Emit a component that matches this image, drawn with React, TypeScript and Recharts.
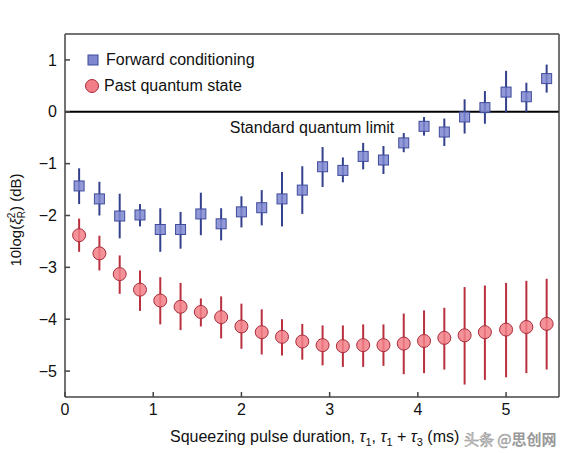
import React from 'react';
import { ComposedChart, Scatter, XAxis, YAxis, ErrorBar, ReferenceLine } from 'recharts';

// pulse duration (ms)
const durations = [0.16, 0.39, 0.62, 0.85, 1.08, 1.31, 1.54, 1.77, 2.0, 2.23, 2.46, 2.69,
    2.92, 3.15, 3.38, 3.61, 3.84, 4.07, 4.3, 4.53, 4.76, 5.0, 5.23, 5.46];

// forward conditioning, dB, with error bar ends
const forwardVal = [-1.43, -1.68, -2.01, -1.99, -2.27, -2.27, -1.97, -2.16, -1.93, -1.85, -1.68, -1.51,
    -1.06, -1.13, -0.86, -0.93, -0.6, -0.28, -0.39, -0.1, 0.08, 0.38, 0.29, 0.64];
const forwardLo = [-1.78, -2.0, -2.44, -2.21, -2.7, -2.64, -2.38, -2.48, -2.23, -2.19, -2.21, -1.97,
    -1.45, -1.36, -1.11, -1.2, -0.78, -0.46, -0.66, -0.42, -0.23, -0.02, 0.0, 0.37];
const forwardHi = [-1.09, -1.35, -1.58, -1.78, -1.86, -1.93, -1.56, -1.86, -1.63, -1.51, -1.16, -1.05,
    -0.68, -0.88, -0.6, -0.66, -0.41, -0.1, -0.13, 0.24, 0.4, 0.79, 0.56, 0.91];

// past quantum state
const pastVal = [-2.38, -2.73, -3.13, -3.43, -3.64, -3.76, -3.86, -3.96, -4.14, -4.25, -4.34, -4.43,
    -4.5, -4.52, -4.5, -4.5, -4.47, -4.42, -4.36, -4.31, -4.25, -4.2, -4.15, -4.09];
const pastLo = [-2.7, -3.06, -3.51, -3.84, -4.1, -4.21, -4.14, -4.37, -4.57, -4.68, -4.7, -4.78,
    -4.89, -4.92, -4.92, -4.9, -5.06, -5.04, -4.97, -5.26, -5.17, -5.12, -5.04, -4.97];
const pastHi = [-2.06, -2.39, -2.77, -3.06, -3.19, -3.3, -3.6, -3.56, -3.7, -3.81, -4.0, -4.09,
    -4.12, -4.12, -4.1, -4.1, -3.89, -3.83, -3.78, -3.38, -3.35, -3.3, -3.26, -3.22];

const xTicks = [0, 1, 2, 3, 4, 5];
const yTicks = [-5, -4, -3, -2, -1, 0, 1];

const FONT = '"Liberation Sans", Arial, sans-serif';
const AXIS = '#444';

const fwdData = durations.map((x, i) => ({ x, y: forwardVal[i], err: [forwardVal[i] - forwardLo[i], forwardHi[i] - forwardVal[i]] }));
const pastData = durations.map((x, i) => ({ x, y: pastVal[i], err: [pastVal[i] - pastLo[i], pastHi[i] - pastVal[i]] }));

const minus = (v: number) => String(v).replace('-', '\u2212');

const Square = (p: any) => (
    <rect x={p.cx - 5} y={p.cy - 5} width={10} height={10} fill="#7f87d0" fillOpacity={0.85} stroke="#3f4b9c" strokeWidth={1} />
);
const Circle = (p: any) => (
    <circle cx={p.cx} cy={p.cy} r={6.5} fill="#f27f87" fillOpacity={0.85} stroke="#a82c3a" strokeWidth={1} />
);

const LegendBox = () => (
    <div style={{ position: 'absolute', left: 83, top: 47, fontFamily: FONT, fontSize: 16, color: '#111' }}>
        <div style={{ display: 'flex', alignItems: 'center', height: 26 }}>
            <svg width={20} height={14}><rect x={5} y={2} width={10} height={10} fill="#7f87d0" stroke="#3f4b9c" /></svg>
            <span style={{ marginLeft: 3 }}>Forward conditioning</span>
        </div>
        <div style={{ display: 'flex', alignItems: 'center', height: 26 }}>
            <svg width={20} height={16}><circle cx={9} cy={8} r={6.5} fill="#f27f87" stroke="#a82c3a" /></svg>
            <span style={{ marginLeft: 1 }}>Past quantum state</span>
        </div>
    </div>
);

export default function App() {
    return (
        <div style={{ position: 'absolute', left: 0, top: 0, width: 565, height: 453, background: '#fff' }}>
            <ComposedChart width={565} height={453} margin={{ top: 33, right: 5, bottom: 26, left: 8 }}>
                <XAxis type="number" dataKey="x" domain={[0, 5.6]} ticks={xTicks} allowDataOverflow
                    tickSize={-5} tickMargin={12} stroke={AXIS} strokeWidth={1.5}
                    tick={{ fill: '#111', fontSize: 16, fontFamily: FONT }} height={30} />
                <XAxis xAxisId="top" orientation="top" type="number" dataKey="x" domain={[0, 5.6]} ticks={xTicks}
                    tickSize={-5} tick={false} stroke={AXIS} strokeWidth={1.5} height={1} />
                <YAxis type="number" dataKey="y" domain={[-5.5, 1.5]} ticks={yTicks} allowDataOverflow
                    tickSize={-5} tickMargin={13} stroke={AXIS} strokeWidth={1.5} tickFormatter={minus}
                    tick={{ fill: '#111', fontSize: 16, fontFamily: FONT }} width={57} />
                <YAxis yAxisId="right" orientation="right" type="number" domain={[-5.5, 1.5]} ticks={yTicks}
                    tickSize={-5} tick={false} stroke={AXIS} strokeWidth={1.5} width={1} />
                <ReferenceLine y={0} stroke="#000" strokeWidth={2}
                    label={{ value: 'Standard quantum limit', position: 'bottom', offset: 10, fill: '#111', fontSize: 16, fontFamily: FONT }} />
                <Scatter name="Forward conditioning" data={fwdData} shape={Square} isAnimationActive={false}>
                    <ErrorBar dataKey="err" direction="y" width={0} stroke="#33408c" strokeWidth={2} />
                </Scatter>
                <Scatter name="Past quantum state" data={pastData} shape={Circle} isAnimationActive={false}>
                    <ErrorBar dataKey="err" direction="y" width={0} stroke="#b8303e" strokeWidth={2} />
                </Scatter>
            </ComposedChart>
            <LegendBox />
            <div style={{ position: 'absolute', left: 17, top: 220, transform: 'translate(-50%, -50%) rotate(-90deg)',
                fontFamily: FONT, fontSize: 15, color: '#111', whiteSpace: 'nowrap' }}>
                10log(<i>ξ</i>
                <span style={{ display: 'inline-flex', flexDirection: 'column', verticalAlign: 'middle', fontSize: 10, lineHeight: '10px' }}>
                    <span>2</span><span>R</span>
                </span>) (dB)
            </div>
            <div style={{ position: 'absolute', left: 170, top: 428, fontFamily: FONT, fontSize: 16, color: '#111', whiteSpace: 'nowrap' }}>
                Squeezing pulse duration, <i>τ</i><sub style={{ fontSize: 11 }}>1</sub>, <i>τ</i><sub style={{ fontSize: 11 }}>1</sub> + <i>τ</i><sub style={{ fontSize: 11 }}>3</sub> (ms)
            </div>
            <div style={{ position: 'absolute', left: 464, top: 429, fontFamily: '"Noto Sans CJK SC", sans-serif', fontSize: 15, lineHeight: '20px', whiteSpace: 'nowrap' }}>
                <span style={{ color: '#ddd', WebkitTextStroke: '0.5px #888' }}>头条 @</span>
                <span style={{ color: '#999', fontWeight: 700 }}>思创网</span>
            </div>
        </div>
    );
}
